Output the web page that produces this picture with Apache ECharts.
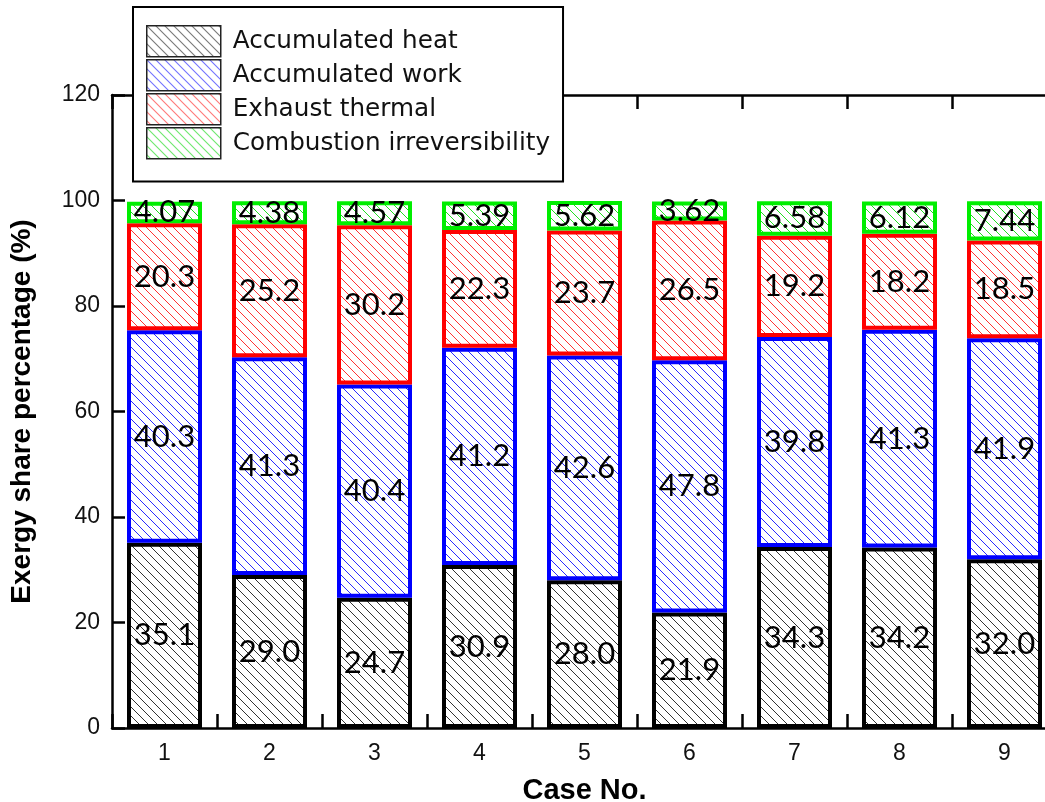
<!DOCTYPE html>
<html>
<head>
<meta charset="utf-8">
<script src="https://cdn.jsdelivr.net/npm/echarts@6/dist/echarts.min.js"></script>
<style>
html,body{margin:0;padding:0;background:#fff;}
#chart{width:1045px;height:802px;}
</style>
</head>
<body>
<div id="chart"></div>
<script>
var categories = ['1','2','3','4','5','6','7','8','9'];
var seriesNames = ['Accumulated heat','Accumulated work','Exhaust thermal','Combustion irreversibility'];
var heat = [35.1, 29.0, 24.7, 30.9, 28.0, 21.9, 34.3, 34.2, 32.0];
var work = [40.3, 41.3, 40.4, 41.2, 42.6, 47.8, 39.8, 41.3, 41.9];
var exhaust = [20.3, 25.2, 30.2, 22.3, 23.7, 26.5, 19.2, 18.2, 18.5];
var combustion = [4.07, 4.38, 4.57, 5.39, 5.62, 3.62, 6.58, 6.12, 7.44];
var yTicks = [0, 20, 40, 60, 80, 100, 120];

var borderColors = ['#000000', '#0000ff', '#ff0000', '#00ee00'];
var hatchColors = ['#333333', '#2a2aff', '#ff3333', '#22dd22'];
var decimals = [1, 1, 1, 2];

function hatch(color) {
  var s = 9;
  var c = document.createElement('canvas');
  c.width = s; c.height = s;
  var ctx = c.getContext('2d');
  ctx.fillStyle = '#ffffff';
  ctx.fillRect(0, 0, s, s);
  ctx.strokeStyle = color;
  ctx.lineWidth = 1;
  ctx.beginPath();
  ctx.moveTo(-1, -1); ctx.lineTo(s + 1, s + 1);
  ctx.moveTo(-1, s - 1); ctx.lineTo(1, s + 1);
  ctx.moveTo(s - 1, -1); ctx.lineTo(s + 1, 1);
  ctx.stroke();
  return { image: c, repeat: 'repeat' };
}

var dataSets = [heat, work, exhaust, combustion];
var series = dataSets.map(function (d, i) {
  return {
    name: seriesNames[i],
    type: 'bar',
    stack: 'total',
    xAxisIndex: 0,
    barWidth: 75,
    data: d,
    itemStyle: {
      color: hatch(hatchColors[i]),
      borderColor: borderColors[i],
      borderWidth: 4
    },
    label: {
      show: true,
      position: 'inside',
      fontFamily: 'Lato',
      fontSize: 31,
      color: '#000000',
      formatter: function (p) { return p.value.toFixed(decimals[i]); }
    }
  };
});

var chart = echarts.init(document.getElementById('chart'), null, { renderer: 'canvas' });
chart.setOption({
  animation: false,
  backgroundColor: '#ffffff',
  grid: { left: 112, top: 95, width: 945, height: 633, containLabel: false, outerBoundsMode: 'none' },
  legend: {
    orient: 'vertical',
    left: 133,
    top: 7,
    padding: [18, 13, 22, 13],
    itemWidth: 74,
    itemHeight: 31,
    itemGap: 1.5,
    backgroundColor: '#ffffff',
    borderColor: '#000000',
    borderWidth: 2,
    icon: 'rect',
    textStyle: { fontFamily: 'DejaVu Sans', fontSize: 24.7, lineHeight: 26, color: '#111111', padding: [0, 0, 0, 7] },
    data: seriesNames.map(function (n) {
      return { name: n, itemStyle: { borderColor: '#222222', borderWidth: 1.5 } };
    })
  },
  xAxis: [{
    type: 'category',
    data: categories,
    position: 'bottom',
    name: 'Case No.',
    nameLocation: 'middle',
    nameGap: 48,
    nameTextStyle: { fontFamily: 'Liberation Sans', fontWeight: 'bold', fontSize: 29, color: '#000' },
    axisLine: { lineStyle: { color: '#000', width: 2.5 } },
    axisTick: { show: true, inside: true, length: 14, interval: 0, lineStyle: { color: '#000', width: 2.5 } },
    axisLabel: { fontFamily: 'Liberation Sans', fontSize: 23, color: '#111', margin: 14 },
    splitLine: { show: false }
  }, {
    type: 'category',
    data: categories,
    position: 'top',
    axisLine: { lineStyle: { color: '#000', width: 2.5 } },
    axisTick: { show: true, inside: true, length: 14, interval: 0, lineStyle: { color: '#000', width: 2.5 } },
    axisLabel: { show: false },
    splitLine: { show: false }
  }],
  yAxis: {
    type: 'value',
    min: yTicks[0],
    max: yTicks[yTicks.length - 1],
    interval: 20,
    name: 'Exergy share percentage (%)',
    nameLocation: 'middle',
    nameGap: 76,
    nameTextStyle: { fontFamily: 'Liberation Sans', fontWeight: 'bold', fontSize: 28, color: '#000' },
    axisLine: { show: true, lineStyle: { color: '#000', width: 2.5 } },
    axisTick: { show: true, inside: true, length: 13, lineStyle: { color: '#000', width: 2.5 } },
    axisLabel: { fontFamily: 'Liberation Sans', fontSize: 23, color: '#111', margin: 12 },
    splitLine: { show: false }
  },
  series: series
});
</script>
</body>
</html>
